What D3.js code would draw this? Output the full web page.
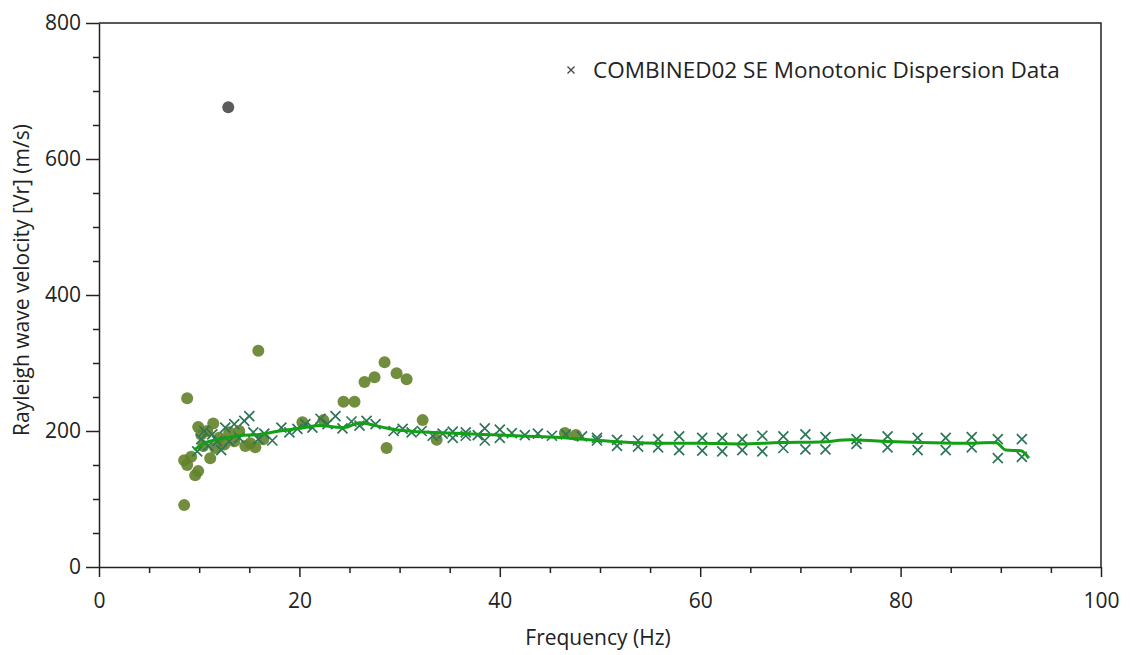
<!DOCTYPE html>
<meta charset="utf-8">
<style>
    body { margin: 0; background: #fff; }
    svg { font-family: "Open Sans", sans-serif; }
    .axis path, .axis line { stroke: #222; stroke-width: 1.5; }
    .axis text { font-size: 21px; fill: #222; font-family: "Open Sans", sans-serif; }
    .title { font-size: 21px; fill: #222; }
    .cross { stroke: #2c7656; stroke-width: 1.7; }
    .dot { fill: #62822a; }
    .outlier { fill: #5c5c5c; }
    .curve { fill: none; stroke: #12a014; stroke-width: 3; }
</style>
<svg width="1130" height="655"></svg>
<script src="https://d3js.org/d3.v7.min.js"></script>
<script>

    // picked dispersion points (olive dots)
    var dotFreq = [8.5, 8.8, 8.5, 8.8, 9.2, 9.6, 9.9, 9.9, 10.2, 10.4, 10.8, 11.1, 11.4, 11.6, 12.0, 12.5, 13.0, 13.5, 14.0, 14.6, 15.1, 15.6, 15.9, 16.4,
                   20.3, 22.4, 24.4, 25.5, 26.5, 27.5, 28.5, 28.7, 29.7, 30.7, 32.3, 33.7, 46.5, 47.6];
    var dotVel = [91, 248, 157, 150, 162, 135, 141, 206, 195, 178, 200, 160, 211, 175, 190, 180, 198, 185, 200, 178, 182, 176, 318, 188,
                  213, 216, 243, 243, 272, 279, 301, 175, 285, 276, 216, 187, 197, 194];

    var outlierFreq = [12.9];
    var outlierVel = [676];

    // monotonic dispersion data (x markers)
    var crossFreq = [9.8, 10.2, 10.5, 10.9, 11.3, 11.8, 12.2, 12.6, 13.0, 13.5, 14.0, 14.5, 15.0, 15.4, 15.9, 16.5, 17.3, 18.2, 19.0, 19.8,
                     20.6, 21.3, 22.1, 22.8, 23.6, 24.3, 25.2, 26.0, 26.7, 27.6, 29.4, 30.3, 31.2, 32.2, 33.3, 34.3, 35.3, 35.3, 36.6, 36.6,
                     37.8, 38.5, 38.5, 40.0, 40.0, 41.2, 42.5, 43.8, 45.2, 46.6, 48.2, 49.7, 49.7,
                     51.7, 51.7, 53.8, 53.8, 55.8, 55.8, 57.9, 57.9, 60.2, 60.2, 62.2, 62.2, 64.2, 64.2, 66.2, 66.2, 68.3, 68.3,
                     70.5, 70.5, 72.5, 72.5, 75.6, 75.6, 78.7, 78.7, 81.7, 81.7, 84.5, 84.5, 87.1, 87.1, 89.7, 89.7, 92.1, 92.1];
    var crossVel = [170, 188, 200, 178, 195, 185, 172, 205, 185, 210, 190, 215, 222, 198, 188, 196, 186, 205, 198, 203,
                    210, 205, 218, 210, 222, 204, 214, 208, 215, 210, 200, 203, 198, 200, 193, 196, 199, 190, 198, 193,
                    194, 204, 186, 202, 190, 197, 194, 196, 193, 195, 192, 190, 186,
                    187, 178, 186, 177, 188, 176, 192, 172, 190, 171, 190, 170, 188, 172, 193, 170, 192, 175,
                    195, 173, 191, 173, 188, 181, 192, 176, 190, 172, 190, 172, 191, 176, 188, 160, 188, 162];

    // fitted curve
    var curveFreq = [9.5, 10.5, 12, 14, 16, 18, 20, 22, 23.5, 24.5, 26, 27, 28.5, 30, 32, 35, 40, 45, 50, 53, 56, 60, 64, 68, 72, 75, 78, 82, 86, 89.5, 90.5, 92, 92.8];
    var curveVel = [172, 182, 188, 193, 195, 200, 204, 208, 206, 205, 212, 210, 205, 201, 199, 197, 194, 191, 186, 183, 182, 182, 181, 183, 184, 187, 185, 183, 182, 183, 172, 171, 160];

    var legendLabel = "COMBINED02 SE Monotonic Dispersion Data";
    var xTitle = "Frequency (Hz)";
    var yTitle = "Rayleigh wave velocity [Vr] (m/s)";

    var svg = d3.select("svg");

    var x = d3.scaleLinear().domain([0, 100]).range([99, 1101]),
        y = d3.scaleLinear().domain([0, 800]).range([567, 23]);

    // frame: top and right border
    svg.append("path")
        .attr("d", "M" + x(0) + "," + y(800) + "H" + x(100) + "V" + y(0))
        .attr("fill", "none")
        .attr("stroke", "#222")
        .attr("stroke-width", 1.5);

    var xAxis = svg.append("g")
        .attr("class", "axis")
        .attr("transform", "translate(0," + y(0) + ")")
        .call(d3.axisBottom(x)
            .tickValues(d3.range(0, 101, 5))
            .tickSize(6)
            .tickSizeOuter(0)
            .tickFormat(function(d) { return d % 20 === 0 ? d : ""; }));
    xAxis.selectAll(".tick line").attr("y2", function(d) { return d % 20 === 0 ? 10 : 6; });
    xAxis.selectAll(".tick text").attr("y", 26);

    var yAxis = svg.append("g")
        .attr("class", "axis")
        .attr("transform", "translate(" + x(0) + ",0)")
        .call(d3.axisLeft(y)
            .tickValues(d3.range(0, 801, 50))
            .tickSize(6)
            .tickSizeOuter(0)
            .tickFormat(function(d) { return d % 200 === 0 ? d : ""; }));
    yAxis.selectAll(".tick line").attr("x2", function(d) { return d % 200 === 0 ? -13 : -6; });
    yAxis.selectAll(".tick text").attr("x", -18);

    svg.append("text")
        .attr("class", "title")
        .attr("x", 598)
        .attr("y", 645)
        .attr("text-anchor", "middle")
        .text(xTitle);

    svg.append("text")
        .attr("class", "title")
        .attr("transform", "translate(29," + y(422) + ") rotate(-90)")
        .attr("text-anchor", "middle")
        .text(yTitle);

    var dots = d3.range(dotFreq.length).map(function(i) { return {f: dotFreq[i], v: dotVel[i]}; });
    svg.selectAll(".dot")
        .data(dots)
        .enter().append("circle")
        .attr("class", "dot")
        .attr("cx", function(d) { return x(d.f); })
        .attr("cy", function(d) { return y(d.v); })
        .attr("r", 6)
        .attr("opacity", 0.9);

    var outliers = d3.range(outlierFreq.length).map(function(i) { return {f: outlierFreq[i], v: outlierVel[i]}; });
    svg.selectAll(".outlier")
        .data(outliers)
        .enter().append("circle")
        .attr("class", "outlier")
        .attr("cx", function(d) { return x(d.f); })
        .attr("cy", function(d) { return y(d.v); })
        .attr("r", 6);

    var crosses = d3.range(crossFreq.length).map(function(i) { return {f: crossFreq[i], v: crossVel[i]}; });
    var crossPath = "M-5,-5L5,5M-5,5L5,-5";
    svg.selectAll(".cross")
        .data(crosses)
        .enter().append("path")
        .attr("class", "cross")
        .attr("transform", function(d) { return "translate(" + x(d.f) + "," + y(d.v) + ")"; })
        .attr("d", crossPath);

    var curve = d3.range(curveFreq.length).map(function(i) { return {f: curveFreq[i], v: curveVel[i]}; });
    svg.append("path")
        .datum(curve)
        .attr("class", "curve")
        .attr("d", d3.line()
            .curve(d3.curveMonotoneX)
            .x(function(d) { return x(d.f); })
            .y(function(d) { return y(d.v); }));

    // legend
    var legend = svg.append("g").attr("transform", "translate(571,70)");
    legend.append("path")
        .attr("d", "M-3.5,-3.5L3.5,3.5M-3.5,3.5L3.5,-3.5")
        .attr("stroke", "#444")
        .attr("stroke-width", 1.3);
    legend.append("text")
        .attr("x", 22)
        .attr("y", 8)
        .attr("font-size", 22.5)
        .attr("fill", "#222")
        .text(legendLabel);

</script>
